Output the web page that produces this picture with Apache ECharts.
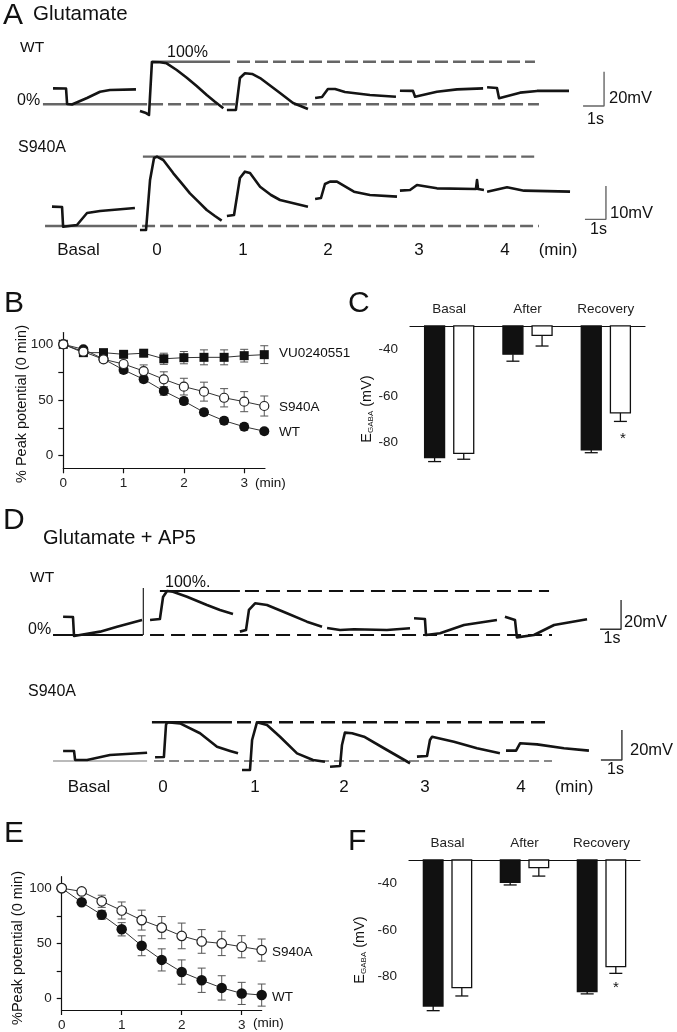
<!DOCTYPE html>
<html><head><meta charset="utf-8">
<script src="https://cdn.jsdelivr.net/npm/echarts@6/dist/echarts.min.js"></script>
<style>html,body{margin:0;padding:0;background:#fff}#c{width:677px;height:1032px}</style>
</head><body><div id="c"></div>
<script>
// ================= DATA =================
// Traces: [time (s), membrane potential relative to 0% baseline (mV)], one array per recording
const A_WT_TRACES = [
  [[0.62,9.3],[1.24,9.2],[1.29,0.2],[1.52,-0.1],[2.24,3.7],[2.86,7.3],[3.33,8.3],[4.57,8.7]],
  [[4.76,-3.9],[5.05,-5.1],[5.19,-6.2],[5.33,24.7],[5.71,24.5],[6.03,23.9],[6.51,20.0],[6.99,15.5],[7.46,10.7],[7.94,5.4],[8.33,1.5],[8.73,-2.3]],
  [[8.90,-3.3],[9.33,-3.3],[9.52,15.3],[9.76,18.1],[10.10,17.7],[10.48,15.3],[11.43,6.6],[12.05,0.8],[12.76,-2.7]],
  [[13.10,3.7],[13.43,4.3],[13.71,8.9],[14.05,8.9],[14.52,7.2],[15.71,5.4],[16.95,4.4]],
  [[17.14,7.9],[17.76,7.8],[17.86,4.4],[18.90,7.3],[19.86,8.7],[21.10,9.3]],
  [[21.29,9.9],[21.76,9.5],[21.86,3.5],[22.86,6.8],[23.67,7.8],[25.19,7.8]]
];
const A_WT_PEAK = 24.8;
const A_S940A_TRACES = [
  [[0.57,5.8],[1.05,5.7],[1.10,-0.2],[1.76,0.3],[2.24,3.9],[2.86,4.5],[4.52,5.4]],
  [[4.76,-1.2],[5.05,-1.2],[5.24,13.8],[5.43,20.4],[5.57,20.8],[5.87,19.8],[6.35,15.8],[6.75,12.8],[7.14,9.8],[7.54,7.3],[7.94,4.8],[8.33,3.0],[8.65,1.6]],
  [[8.90,3.0],[9.24,3.3],[9.52,14.4],[9.76,16.3],[10.0,15.9],[10.48,11.8],[11.0,9.3],[11.43,7.8],[12.76,5.8]],
  [[13.10,8.1],[13.38,8.4],[13.57,12.6],[13.81,13.3],[14.14,13.3],[14.95,10.3],[15.71,9.3],[17.0,8.8]],
  [[17.14,10.6],[17.62,10.8],[17.95,12.3],[18.90,11.3],[20.76,11.1],[20.81,13.8],[20.86,11.1],[21.14,10.8]],
  [[21.29,10.3],[22.24,11.6],[23.05,10.6],[25.24,10.3]]
];
const A_S940A_PEAK = 20.8;
const D_WT_TRACES = [
  [[1.10,12.5],[1.57,12.3],[1.62,-0.7],[1.90,0],[2.86,2.3],[3.67,5.7],[4.86,10.2]],
  [[5.24,10.2],[5.71,10.9],[5.86,25.9],[6.05,30.0],[6.33,29.5],[7.0,26.1],[7.95,20.5],[8.57,17.1],[9.19,14.3]],
  [[9.52,2.3],[9.81,3.4],[9.95,17.1],[10.24,21.6],[10.81,20.5],[11.76,14.8],[12.71,9.1],[13.43,5.7]],
  [[13.67,4.8],[14.29,3.4],[14.95,3.9],[16.52,3.4],[17.62,4.6]],
  [[17.81,11.4],[18.33,10.9],[18.38,0],[19.05,1.2],[20.19,6.8],[21.76,10.2]],
  [[22.14,12.5],[22.62,10.2],[22.71,-1.6],[23.52,0],[24.48,6.8],[26.05,10.7]]
];
const D_WT_ARTIFACT = [[4.92,0],[4.92,32]];
const D_WT_PEAK = 30.0;
const D_S940A_TRACES = [
  [[1.10,6.7],[1.62,6.7],[1.67,0.7],[2.24,0.7],[3.33,4.0],[5.10,5.5]],
  [[5.48,2.5],[5.90,2.7],[6.0,24.0],[6.05,25.8],[6.67,25.1],[7.62,18.5],[8.43,9.5],[9.05,6.7],[9.43,5.1]],
  [[9.62,-6.0],[10.0,-6.0],[10.1,14.0],[10.33,25.8],[10.81,24.0],[11.43,16.2],[12.24,5.1],[13.0,0.7],[13.57,-0.5]],
  [[13.81,-3.8],[14.29,-3.3],[14.38,10.7],[14.52,18.9],[14.86,18.5],[15.43,16.2],[16.38,8.5],[17.62,-1.5]],
  [[17.95,2.9],[18.43,3.3],[18.57,14.0],[18.67,16.2],[19.71,12.9],[20.81,8.5],[21.90,5.1]],
  [[22.19,6.9],[22.67,6.9],[22.86,11.8],[23.67,11.1],[24.95,8.5],[26.14,6.9]]
];
const D_S940A_PEAK = 25.8;
const MIN_LABELS = ['Basal','0','1','2','3','4','(min)'];

// Time courses: % peak potential (0 min) vs time (min)
const TIME_MIN = [0, 0.333, 0.667, 1, 1.333, 1.667, 2, 2.333, 2.667, 3, 3.333];
const B_VU = [100, 92.5, 92.5, 91, 92, 87, 88, 88.3, 88.3, 89.8, 90.7];
const B_VU_ERR = [1.5, 2, 2, 2.5, 2, 5, 5.5, 6.7, 6.7, 5.7, 8];
const B_S940A = [100, 93.4, 86.5, 82.3, 76, 68.6, 62, 57.5, 52, 48.5, 44.6];
const B_S940A_ERR = [1, 2, 2.5, 2.5, 5.5, 6.7, 7.5, 8.5, 8.2, 9, 9];
const B_WT = [100, 95.5, 86.8, 77, 68.6, 58, 49, 39, 31.4, 26, 22];
const B_WT_ERR = [1, 1.5, 2.5, 3, 3, 3.7, 3, 3, 3, 3, 2.5];
const E_S940A = [100, 97, 88.1, 79.8, 71.1, 64.3, 56.8, 51.8, 50, 47, 44];
const E_S940A_ERR = [1, 1.5, 5.5, 7.7, 9, 10, 11.6, 10.7, 11, 10, 10];
const E_WT = [100, 87.2, 75.9, 62.8, 47.9, 35.1, 24.1, 16.7, 9.8, 4.8, 3.3];
const E_WT_ERR = [1, 2, 4, 6, 9, 10, 11, 11, 11, 10, 10];

// EGABA (mV)
const BAR_CATS = ['Basal', 'After', 'Recovery'];
const C_WT = [-86.4, -42.1, -83.1];
const C_WT_ERR = [1.7, 3.0, 1.2];
const C_S940A = [-84.6, -34.0, -67.2];
const C_S940A_ERR = [2.5, 4.6, 3.7];
const F_WT = [-92.6, -39.6, -86.4];
const F_WT_ERR = [2.0, 1.1, 1.0];
const F_S940A = [-84.7, -33.3, -75.7];
const F_S940A_ERR = [3.6, 3.6, 2.9];

// ================= LAYOUT =================
const FONT = '"Liberation Sans", Arial, Helvetica, sans-serif';
const grids = [], xAxes = [], yAxes = [], series = [], graphics = [];
function geom(x0, sx, xmin, xmax, y0, sy, ymin, ymax) {
  return { left: x0 + xmin * sx, width: (xmax - xmin) * sx, top: y0 - ymax * sy, height: (ymax - ymin) * sy };
}
function addGrid(g, xa, ya) {
  const i = grids.length;
  grids.push(g);
  xAxes.push(Object.assign({ gridIndex: i }, xa));
  yAxes.push(Object.assign({ gridIndex: i }, ya));
  return i;
}
function lineSeries(gi, data, ls, z) {
  series.push({ type: 'line', xAxisIndex: gi, yAxisIndex: gi, data: data, symbol: 'none',
    lineStyle: ls, z: z || 2, silent: true });
}

// ----- trace rows -----
const TX0 = 40, TSX = 21;
const ROWS = [
  { traces: A_WT_TRACES, peak: A_WT_PEAK, y0: 104.3, sy: 1.715, ymin: -8, ymax: 28,
    refs: [[5.33, 9.05, 1, 's'], [9.38, 23.57, 1, 'd'], [0.14, 5.10, 0, 's'], [5.24, 23.76, 0, 'd']],
    refStyle: { color: '#666', width: 2.4 }, dash: [13, 5], bar: [26.86, -1, 20], barColor: '#666' },
  { traces: A_S940A_TRACES, peak: A_S940A_PEAK, y0: 226, sy: 3.333, ymin: -3, ymax: 24,
    refs: [[4.90, 9.05, 1, 's'], [9.20, 23.76, 1, 'd'], [0.24, 4.62, 0, 's'], [4.86, 23.76, 0, 'd']],
    refStyle: { color: '#666', width: 2.4 }, dash: [13, 5], bar: [26.95, 2.0, 10], barColor: '#666' },
  { traces: D_WT_TRACES, peak: D_WT_PEAK, y0: 635, sy: 1.466, ymin: -4, ymax: 34,
    refs: [[5.71, 9.52, 1, 's'], [9.76, 24.24, 1, 'd'], [0.62, 4.90, 0, 's'], [5.24, 24.38, 0, 'd']],
    refStyle: { color: '#111', width: 2.2 }, dash: [14, 7], bar: [27.67, 3.9, 20], barColor: '#333',
    artifact: D_WT_ARTIFACT },
  { traces: D_S940A_TRACES, peak: D_S940A_PEAK, y0: 761, sy: 1.5, ymin: -8, ymax: 28,
    refs: [[5.33, 9.14, 1, 's'], [9.38, 24.38, 1, 'd'], [0.62, 5.10, 0, 'thin'], [5.43, 24.38, 0, 'gd']],
    refStyle: { color: '#111', width: 2.6 }, dash: [14, 7], bar: [27.71, 0.7, 20], barColor: '#333' }
];
ROWS.forEach(row => {
  const gi = addGrid(geom(TX0, TSX, 0, 30, row.y0, row.sy, row.ymin, row.ymax),
    { type: 'value', min: 0, max: 30, show: false },
    { type: 'value', min: row.ymin, max: row.ymax, show: false });
  row.refs.forEach(r => {
    const lvl = r[2] ? row.peak : 0;
    let ls = Object.assign({}, row.refStyle, { type: 'solid' });
    if (r[3] === 'd') ls.type = row.dash;
    if (r[3] === 'thin') ls = { color: '#777', width: 1.2, type: 'solid' };
    if (r[3] === 'gd') ls = { color: '#888', width: 2, type: [10, 5] };
    lineSeries(gi, [[r[0], lvl], [r[1], lvl]], ls, 1);
  });
  row.traces.forEach(seg => lineSeries(gi, seg, { color: '#141414', width: 2.6, join: 'round' }, 3));
  if (row.artifact) lineSeries(gi, row.artifact, { color: '#222', width: 1.2 }, 3);
  const b = row.bar;
  lineSeries(gi, [[b[0] - 1, b[1]], [b[0], b[1]], [b[0], b[1] + b[2]]], { color: row.barColor, width: 1.4 }, 2);
});

// ----- time-course panels (B, E) -----
const axisLineStyle = { color: '#111', width: 1.2 };
function errRender(cap) {
  return function (params, api) {
    const x = api.value(0), y = api.value(1), e = api.value(2);
    const p1 = api.coord([x, y + e]), p2 = api.coord([x, y - e]);
    const st = { stroke: '#555', lineWidth: 1 };
    return { type: 'group', children: [
      { type: 'line', shape: { x1: p1[0], y1: p1[1], x2: p2[0], y2: p2[1] }, style: st },
      { type: 'line', shape: { x1: p1[0] - cap / 2, y1: p1[1], x2: p1[0] + cap / 2, y2: p1[1] }, style: st },
      { type: 'line', shape: { x1: p2[0] - cap / 2, y1: p2[1], x2: p2[0] + cap / 2, y2: p2[1] }, style: st }
    ] };
  };
}
function timePanel(g, ymin, ymax, xmax, sets) {
  const gi = addGrid(g,
    { type: 'value', min: 0, max: xmax, splitLine: { show: false },
      axisLine: { onZero: false, lineStyle: axisLineStyle },
      axisTick: { customValues: [0, 1, 2, 3], length: 5, lineStyle: axisLineStyle },
      axisLabel: { customValues: [0, 1, 2, 3], fontSize: 13.5, color: '#222', fontFamily: FONT, margin: 8 } },
    { type: 'value', min: ymin, max: ymax, splitLine: { show: false },
      axisLine: { onZero: false, lineStyle: axisLineStyle },
      axisTick: { customValues: [0, 25, 50, 75, 100], length: 5, lineStyle: axisLineStyle },
      axisLabel: { customValues: [0, 50, 100], fontSize: 13.5, color: '#222', fontFamily: FONT, margin: 10 } });
  sets.forEach(s => {
    series.push({ type: 'custom', xAxisIndex: gi, yAxisIndex: gi, renderItem: errRender(8), clip: false, z: 2,
      data: TIME_MIN.map((t, i) => [t, s.v[i], s.e[i]]) });
  });
  sets.forEach(s => {
    series.push({ type: 'line', xAxisIndex: gi, yAxisIndex: gi, data: TIME_MIN.map((t, i) => [t, s.v[i]]),
      symbol: s.sym, symbolSize: s.size, lineStyle: { color: '#333', width: 1 },
      itemStyle: s.open ? { color: '#fff', borderColor: '#222', borderWidth: 1.2 } : { color: '#111' }, z: 3 });
  });
}
timePanel(geom(63.3, 60.3, 0, 3.345, 455.7, 1.114, -11.3, 110.5), -11.3, 110.5, 3.345, [
  { v: B_VU, e: B_VU_ERR, sym: 'rect', size: 9 },
  { v: B_WT, e: B_WT_ERR, sym: 'circle', size: 10 },
  { v: B_S940A, e: B_S940A_ERR, sym: 'circle', size: 9, open: true }
]);
timePanel(geom(61.7, 60, 0, 3.333, 1000.3, 1.12, -10.2, 110.4), -10.2, 110.4, 3.333, [
  { v: E_WT, e: E_WT_ERR, sym: 'circle', size: 10.5 },
  { v: E_S940A, e: E_S940A_ERR, sym: 'circle', size: 9.5, open: true }
]);

// ----- EGABA bar panels (C, F) -----
function barRender(off, wf, fill, top) {
  return function (params, api) {
    const ci = api.value(0), v = api.value(1), e = api.value(2);
    const band = api.size([1, 0])[0];
    const pv = api.coord([ci, v]);
    const cx = pv[0] + off * band, w = wf * band;
    const y0 = api.coord([ci, top])[1];
    const ye = api.coord([ci, v - e])[1];
    const st = { stroke: '#111', lineWidth: 1.3 };
    return { type: 'group', children: [
      { type: 'line', shape: { x1: cx, y1: pv[1], x2: cx, y2: ye }, style: st },
      { type: 'line', shape: { x1: cx - 6.5, y1: ye, x2: cx + 6.5, y2: ye }, style: st },
      { type: 'rect', shape: { x: cx - w / 2, y: y0, width: w, height: pv[1] - y0 },
        style: { fill: fill, stroke: '#111', lineWidth: 1.3 } }
    ] };
  };
}
function barPanel(g, ymin, wt, wtE, mu, muE) {
  const gi = addGrid(g,
    { type: 'category', data: BAR_CATS, position: 'top',
      axisLine: { onZero: false, lineStyle: axisLineStyle }, axisTick: { show: false },
      axisLabel: { fontSize: 13.5, color: '#222', fontFamily: FONT, margin: 10 } },
    { type: 'value', min: ymin, max: -30, splitLine: { show: false },
      axisLine: { onZero: false, lineStyle: axisLineStyle },
      axisTick: { customValues: [-40, -50, -60, -70, -80, -90], length: 5, lineStyle: axisLineStyle },
      axisLabel: { customValues: [-40, -60, -80], fontSize: 13.5, color: '#222', fontFamily: FONT, margin: 12 } });
  series.push({ type: 'custom', xAxisIndex: gi, yAxisIndex: gi, clip: false, z: 3,
    renderItem: barRender(-0.186, 0.255, '#111', -30), data: BAR_CATS.map((c, i) => [i, wt[i], wtE[i]]) });
  series.push({ type: 'custom', xAxisIndex: gi, yAxisIndex: gi, clip: false, z: 3,
    renderItem: barRender(0.186, 0.255, '#fff', -30), data: BAR_CATS.map((c, i) => [i, mu[i], muE[i]]) });
}
barPanel({ left: 410, width: 235, top: 325.95, height: 156.4 }, -97, C_WT, C_WT_ERR, C_S940A, C_S940A_ERR);
barPanel({ left: 409, width: 231, top: 860, height: 160 }, -98.6, F_WT, F_WT_ERR, F_S940A, F_S940A_ERR);

// ----- text -----
function txt(s, x, y, size, align, extra) {
  graphics.push(Object.assign({ type: 'text', x: x, y: y, silent: true,
    style: { text: s, fontSize: size, fontFamily: FONT, fill: '#111', align: align || 'left', verticalAlign: 'middle' } }, extra || {}));
}
txt('A', 3, 16, 30); txt('Glutamate', 33, 14, 20.5);
txt('WT', 20, 48, 15.5); txt('100%', 167, 53, 16); txt('0%', 17, 101, 16);
txt('20mV', 609, 98, 16.5); txt('1s', 595.5, 120, 16, 'center');
txt('S940A', 18, 148, 16); txt('10mV', 610, 213, 16.5); txt('1s', 598.5, 230, 16, 'center');
const A_LABEL_X = [78.5, 157, 243, 328, 419, 505, 558];
MIN_LABELS.forEach((s, i) => txt(s, A_LABEL_X[i], 250, 17, 'center'));
txt('B', 4, 304, 30); txt('C', 348, 304, 30);
txt('VU0240551', 279, 353, 13.5); txt('S940A', 279, 407, 13.5); txt('WT', 279, 432, 13.5);
txt('(min)', 255, 483, 13.5); txt('*', 623, 439, 15, 'center');
txt('% Peak potential (0 min)', 21.7, 404, 14.5, 'center', { rotation: Math.PI / 2 });
graphics.push({ type: 'text', x: 367, y: 409, rotation: Math.PI / 2, silent: true,
  style: { text: '{e|E}{s|GABA}{e| (mV)}', fontFamily: FONT, fill: '#111', align: 'center', verticalAlign: 'middle',
    rich: { e: { fontSize: 14.5, fontFamily: FONT, fill: '#111' }, s: { fontSize: 8, fontFamily: FONT, fill: '#111', verticalAlign: 'bottom', padding: [7, 0, 0, 0] } } } });
txt('D', 3, 521, 30); txt('Glutamate + AP5', 43, 538, 20);
txt('WT', 30, 578, 15.5); txt('100%.', 165, 583, 16); txt('0%', 28, 630, 16);
txt('20mV', 624, 622, 16.5); txt('1s', 612, 639, 16, 'center');
txt('S940A', 28, 692, 16); txt('20mV', 630, 750, 16.5); txt('1s', 615.5, 770, 16, 'center');
const D_LABEL_X = [89, 163, 255, 344, 425, 521, 574];
MIN_LABELS.forEach((s, i) => txt(s, D_LABEL_X[i], 787, 17, 'center'));
txt('E', 4, 834, 30); txt('F', 348, 842, 30);
txt('S940A', 272, 952, 13.5); txt('WT', 272, 997, 13.5); txt('(min)', 253, 1023, 13.5);
txt('*', 616, 988, 15, 'center');
txt('%Peak potential (0 min)', 18, 948, 14.5, 'center', { rotation: Math.PI / 2 });
graphics.push({ type: 'text', x: 360, y: 950, rotation: Math.PI / 2, silent: true,
  style: { text: '{e|E}{s|GABA}{e| (mV)}', fontFamily: FONT, fill: '#111', align: 'center', verticalAlign: 'middle',
    rich: { e: { fontSize: 14.5, fontFamily: FONT, fill: '#111' }, s: { fontSize: 8, fontFamily: FONT, fill: '#111', verticalAlign: 'bottom', padding: [7, 0, 0, 0] } } } });

const chart = echarts.init(document.getElementById('c'));
chart.setOption({ animation: false, backgroundColor: '#fff', grid: grids, xAxis: xAxes, yAxis: yAxes,
  series: series, graphic: graphics });
</script></body></html>
